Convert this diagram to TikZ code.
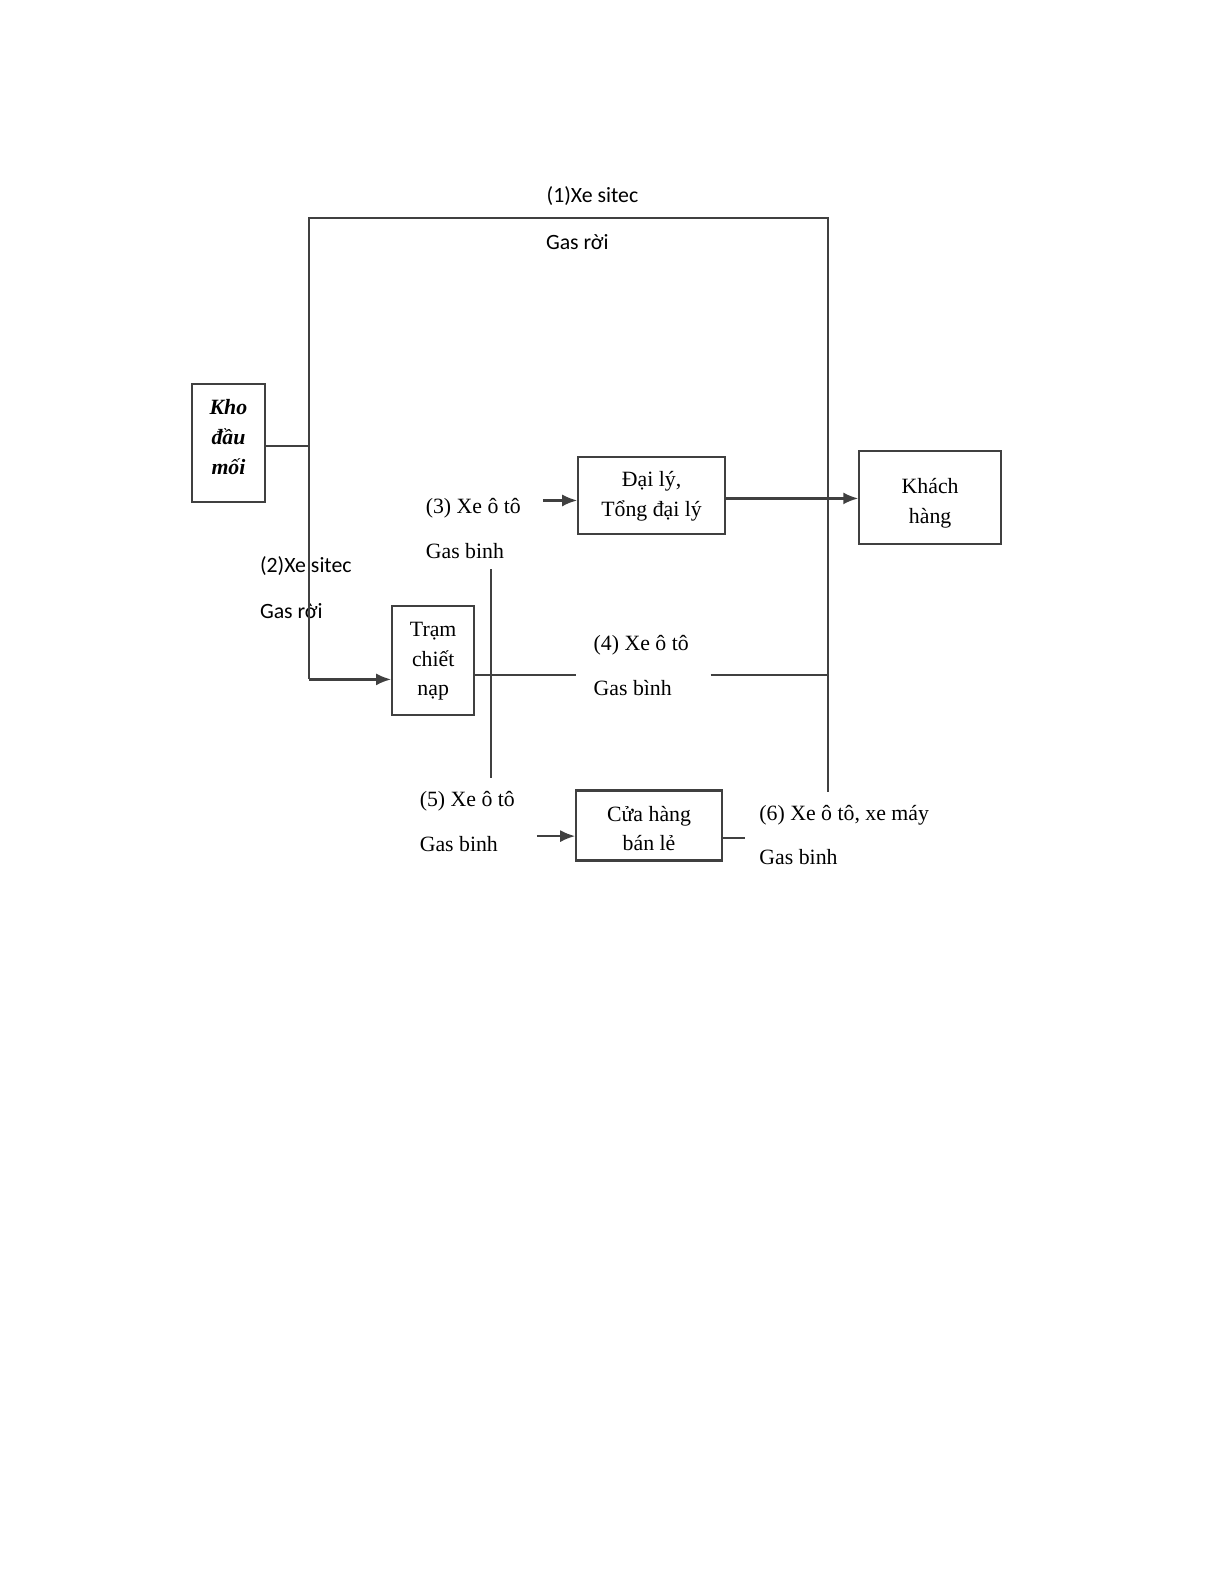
\documentclass[tikz,border=0pt]{standalone}
\usepackage{fontspec}
\setmainfont{Liberation Serif}
\newfontfamily\calfont{Carlito}
\usetikzlibrary{arrows.meta}
\newcommand\boxtext[2]{\raisebox{#1}[\height][\depth]{\begin{tabular}{@{}c@{}}#2\end{tabular}}}
\begin{document}
\begin{tikzpicture}[x=1.011pt,y=-1.011pt,
  ln/.style={line width=2.2pt,draw=black!75},
  arr/.style={ln,-{Latex[length=15pt,width=12pt]}},
  box/.style={ln,rectangle,align=center,inner sep=0pt,font=\fontsize{21.8}{29.8}\selectfont},
  lbl/.style={anchor=west,inner sep=0pt,font=\fontsize{21.8}{26}\selectfont},
  clbl/.style={anchor=west,inner sep=0pt,font=\calfont\fontsize{21.8}{26}\selectfont}]
\useasboundingbox (0pt,0pt) rectangle (1225pt,-1585pt);
% boxes
\node[box,minimum width=73pt,minimum height=118pt] (kho) at (226,438.5) {\boxtext{5pt}{\textbf{\textit{Kho}}\\\textbf{\textit{đầu}}\\\textbf{\textit{mối}}}};
\node[box,minimum width=146.5pt,minimum height=77pt] (daily) at (644.5,490) {\boxtext{0pt}{Đại lý,\\Tổng đại lý}};
\node[box,minimum width=141.5pt,minimum height=93pt] (khach) at (920,492) {\boxtext{-5pt}{Khách\\hàng}};
\node[box,minimum width=82pt,minimum height=109pt] (tram) at (428.5,653) {\boxtext{0pt}{Trạm\\chiết\\nạp}};
\node[box,minimum width=145.5pt,minimum height=70pt] (cuahang) at (642,816.5) {\boxtext{-4.5pt}{Cửa hàng\\bán lẻ}};
% labels
\node[clbl,anchor=center] (l1a) at (586,194) {(1)Xe sitec};
\node[clbl,anchor=center] (l1b) at (571,239) {Gas rời};
\node[clbl] (l2a) at (257,560) {(2)Xe sitec};
\node[clbl] (l2b) at (257,604) {Gas rời};
\node[lbl] (l3a) at (421,503) {(3) Xe ô tô};
\node[lbl] (l3b) at (421,545) {Gas binh};
\node[lbl] (l4a) at (587,638) {(4) Xe ô tô};
\node[lbl] (l4b) at (587,681) {Gas bình};
\node[lbl] (l5a) at (415,793) {(5) Xe ô tô};
\node[lbl] (l5b) at (415,835) {Gas binh};
\node[lbl] (l6a) at (751,806) {(6) Xe ô tô, xe máy};
\node[lbl] (l6b) at (751,848) {Gas binh};
% coordinates
\coordinate (tl) at (306,216);
\coordinate (tr) at (819,216);
\coordinate (j1) at (306,441);
\coordinate (bl) at (306,672);
\coordinate (rb) at (819,783);
\coordinate (a3) at (537,495);
\coordinate (d1) at (717,493);
\coordinate (c4a) at (570,668);
\coordinate (c4b) at (703,668);
\coordinate (c4c) at (819,668);
\coordinate (v5t) at (486,563);
\coordinate (v5b) at (486,770);
\coordinate (a5) at (531,827);
\coordinate (c6) at (737,829);
% connectors
\draw[ln] (kho.east |- j1) -- (j1);
\draw[ln] (rb) -- (tr) -- (tl) -- (bl);
\draw[arr] (bl) -- (tram.west |- bl);
\draw[arr] (a3) -- (daily.west |- a3);
\draw[arr] (daily.east |- d1) -- (khach.west |- d1);
\draw[ln] (tram.east |- c4a) -- (c4a);
\draw[ln] (c4b) -- (c4c);
\draw[ln] (v5t) -- (v5b);
\draw[arr] (a5) -- (cuahang.west |- a5);
\draw[ln] (cuahang.east |- c6) -- (c6);
\end{tikzpicture}
\end{document}
